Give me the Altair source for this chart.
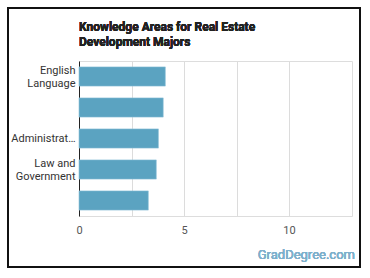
import altair as alt
import pandas as pd

categories = ["English Language", "Building and Construction", "Administration and Management",
              "Law and Government", "Customer and Personal Service"]
display_labels = ["English|Language", "", "Administrat\u2026", "Law and|Government", ""]
values = [4.11, 4.01, 3.78, 3.68, 3.30]
x_ticks = [0, 2.5, 5, 7.5, 10]
title_lines = ["Knowledge Areas for Real Estate", "Development Majors"]

df = pd.DataFrame({"category": categories, "value": values})

label_map = "{" + ",".join(f'"{c}": "{d}"' for c, d in zip(categories, display_labels)) + "}"
label_expr = f"split({label_map}[datum.label], '|')"
multi = [c for c, d in zip(categories, display_labels) if "|" in d]
multi_test = " || ".join(f"datum.value == '{c}'" for c in multi)

W, H = 273, 155

bars = alt.Chart(df).mark_bar(color="#5ba3c1", stroke="#8cc0d6", strokeWidth=0.6).encode(
    x=alt.X("value:Q", scale=alt.Scale(domain=[0, 13], nice=False),
            axis=alt.Axis(values=x_ticks, title=None, grid=True, gridColor="#dcdcdc",
                          domain=False, ticks=False, labelColor="#555555", labelFontSize=11,
                          labelPadding=8, labelFont="Roboto", labelFlush=False,
                          labelExpr="datum.value % 5 == 0 ? datum.label : ''")),
    y=alt.Y("category:N", sort=categories,
            scale=alt.Scale(paddingInner=0.38, paddingOuter=0.19),
            axis=alt.Axis(title=None, ticks=False, domain=True, domainColor="#222222",
                          labelColor="#333333", labelFontSize=11, labelFont="Roboto",
                          labelPadding=4, labelLineHeight=13, labelLimit=80,
                          labelOffset=alt.condition(multi_test, alt.value(-6), alt.value(0)),
                          labelExpr=label_expr)),
)

title = alt.Chart(df).mark_text(text=title_lines, color="#222222", fontSize=12,
                                fontWeight="bold", font="Roboto", align="left",
                                baseline="alphabetic", lineHeight=15, clip=False).encode(
    x=alt.value(0), y=alt.value(-30)
)

border = alt.Chart(df).mark_rect(fill=None, stroke="#111111", strokeWidth=2, clip=False).encode(
    x=alt.value(-71), x2=alt.value(281), y=alt.value(-53), y2=alt.value(206)
)

watermark = alt.Chart(df).mark_text(text="GradDegree.com", color="#7eb0cc", fontSize=13,
                                    font="Roboto", align="right", baseline="alphabetic",
                                    clip=False).encode(
    x=alt.value(276), y=alt.value(198)
)

chart = alt.layer(bars, title, watermark, border).properties(
    width=W, height=H,
    padding={"left": 79, "top": 61, "right": 18, "bottom": 62},
    autosize=alt.AutoSizeParams(type="none"),
).configure_view(stroke=None).configure(background="white")

chart.save("out.html", embed_options={"renderer": "svg", "actions": False})
